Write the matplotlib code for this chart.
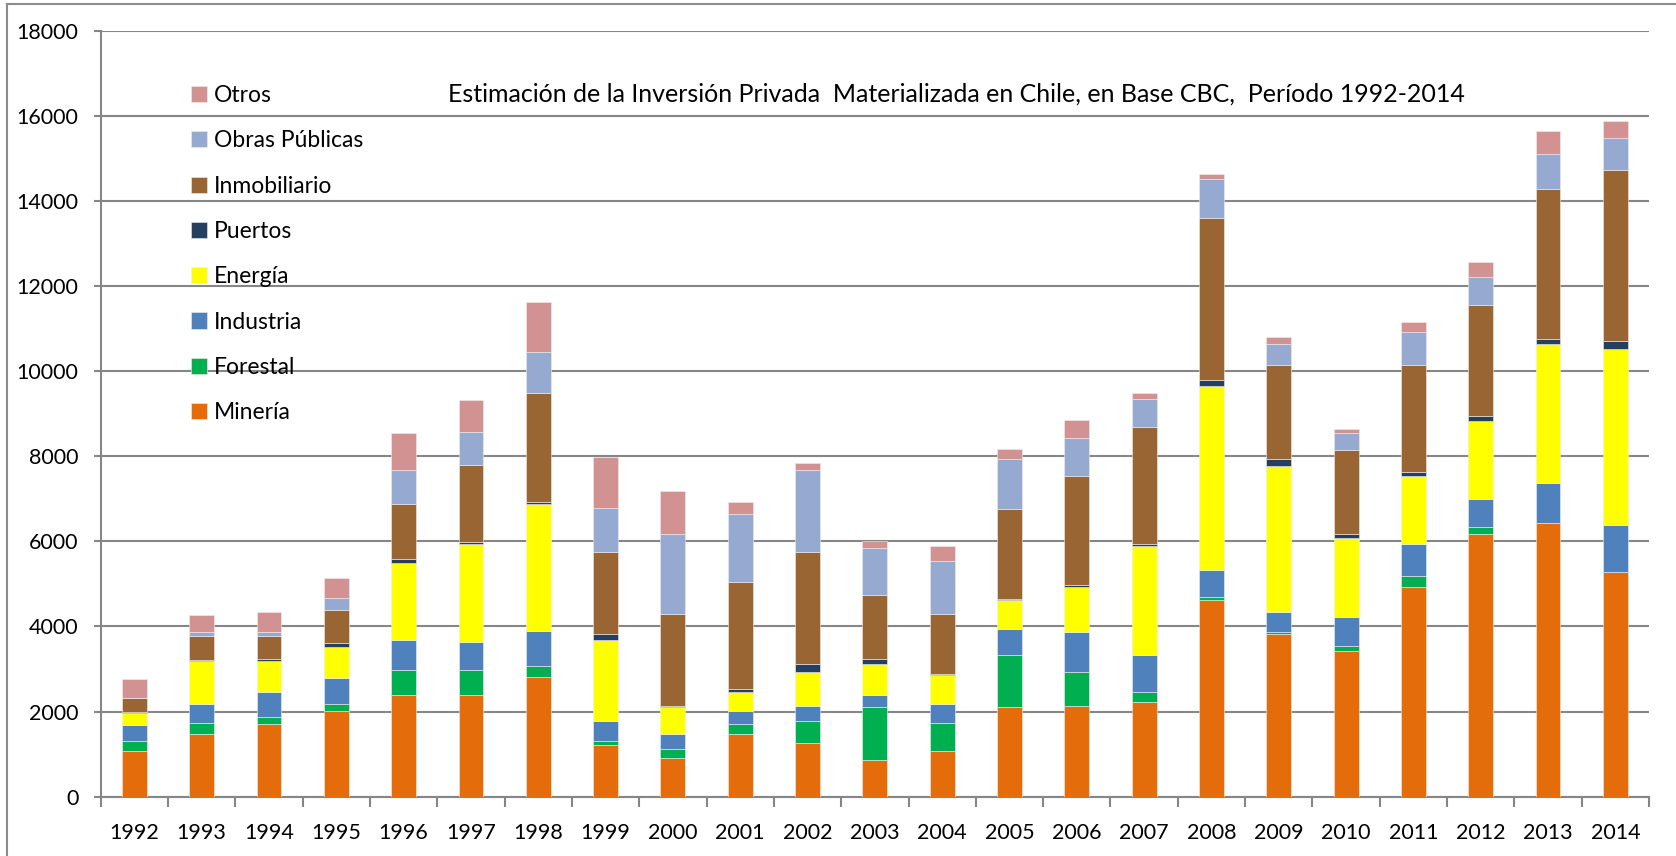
import numpy as np
import matplotlib.pyplot as plt
from matplotlib.lines import Line2D

plt.rcParams['font.family'] = ['Lato', 'DejaVu Sans']

years = [str(y) for y in range(1992, 2015)]

# valores (millones US$)
mineria = [1080, 1480, 1700, 2010, 2400, 2400, 2810, 1210, 900, 1480, 1260, 860,
           1080, 2100, 2140, 2230, 4620, 3820, 3430, 4930, 6170, 6420, 5280]
forestal = [220, 260, 170, 170, 580, 580, 250, 90, 220, 220, 520, 1240,
            660, 1230, 790, 220, 80, 40, 120, 260, 160, 20, 10]
industria = [390, 440, 580, 620, 700, 660, 840, 490, 360, 310, 360, 300,
             440, 620, 930, 880, 630, 490, 670, 750, 670, 920, 1100]
energia = [270, 1020, 750, 720, 1820, 2300, 2970, 1900, 620, 440, 790, 720,
           680, 670, 1070, 2570, 4330, 3410, 1860, 1600, 1820, 3270, 4120]
puertos = [40, 10, 30, 80, 90, 40, 50, 130, 40, 80, 190, 110,
           20, 20, 40, 40, 130, 170, 90, 80, 130, 130, 210]
inmobiliario = [310, 570, 550, 790, 1280, 1810, 2560, 1940, 2160, 2520, 2640, 1510,
                1420, 2130, 2560, 2750, 3820, 2210, 1980, 2520, 2600, 3520, 4000]
obras = [10, 80, 80, 270, 800, 770, 980, 1020, 1870, 1600, 1920, 1110,
         1250, 1160, 900, 660, 900, 490, 390, 790, 660, 830, 750]
otros = [440, 400, 490, 490, 880, 760, 1170, 1200, 1010, 270, 170, 150,
         350, 230, 420, 140, 120, 170, 100, 220, 350, 530, 400]

series = [("Minería", mineria, "#E46C0A"),
          ("Forestal", forestal, "#00B050"),
          ("Industria", industria, "#4F81BD"),
          ("Energía", energia, "#FFFF00"),
          ("Puertos", puertos, "#243F60"),
          ("Inmobiliario", inmobiliario, "#996633"),
          ("Obras Públicas", obras, "#95A9D1"),
          ("Otros", otros, "#D39292")]

fig = plt.figure(figsize=(16.76, 8.56), dpi=100)
ax = fig.add_axes([0.0601, 0.0693, 0.9238, 0.8948])

x = np.arange(len(years)) + 0.5
bottom = np.zeros(len(years))
handles = []
for name, vals, col in series:
    vals = np.array(vals, dtype=float)
    b = ax.bar(x, vals, 0.37, bottom=bottom, color=col, label=name,
               edgecolor="#eeeeee", linewidth=0.4, zorder=3)
    handles.append(b)
    bottom += vals

ax.set_xlim(0, len(years))
ax.set_ylim(0, 18000)
ax.set_yticks(np.arange(0, 18001, 2000))
ax.yaxis.grid(True, color="#868686", linewidth=1.5, zorder=0)

# ticks en los limites de categoria, etiquetas al centro
ax.set_xticks(np.arange(len(years) + 1))
ax.set_xticklabels([])
ax.set_xticks(x, minor=True)
ax.set_xticklabels(years, minor=True)
ax.tick_params(axis="x", which="major", length=7, width=1.5, color="#868686", direction="out")
ax.tick_params(axis="x", which="minor", length=0, pad=19, labelsize=15.5)
ax.tick_params(axis="y", length=5, width=1.5, color="#868686", pad=11, labelsize=15.5)

for s in ["top", "right"]:
    ax.spines[s].set_visible(False)
for s in ["left", "bottom"]:
    ax.spines[s].set_color("#868686")
    ax.spines[s].set_linewidth(1.5)

ax.text(0.5524, 0.917, "Estimación de la Inversión Privada  Materializada en Chile, en Base CBC,  Período 1992-2014",
        transform=ax.transAxes, ha="center", va="center", fontsize=18)

leg = ax.legend(handles[::-1], [h.get_label() for h in handles[::-1]],
                loc="upper left", bbox_to_anchor=(0.045, 0.956), frameon=False,
                fontsize=16.5, handlelength=0.7, handleheight=0.7,
                handletextpad=0.3, labelspacing=1.06)

# marco del grafico (solo izquierda y arriba visibles)
fig.add_artist(Line2D([7 / 1676, 7 / 1676], [0, 1 - 4 / 856], color="#8c8c8c", linewidth=1.5))
fig.add_artist(Line2D([7 / 1676, 1], [1 - 4 / 856, 1 - 4 / 856], color="#8c8c8c", linewidth=1.5))

fig.savefig("out.png", dpi=100)
